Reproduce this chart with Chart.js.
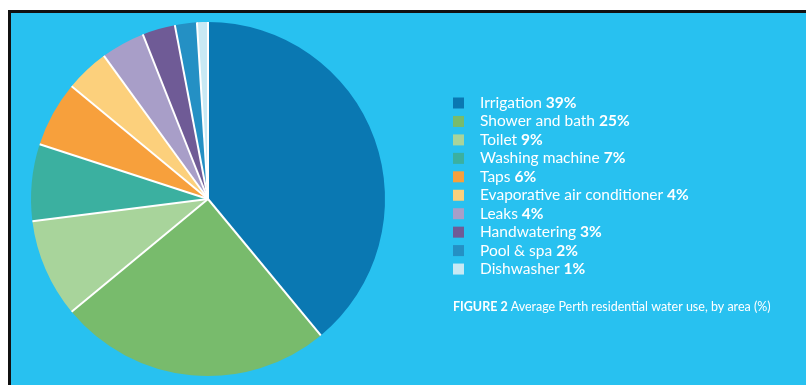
<!DOCTYPE html>
<html>
<head>
<meta charset="utf-8">
<script src="https://cdn.jsdelivr.net/npm/chart.js@4.4.1/dist/chart.umd.min.js"></script>
<style>
  html, body { margin: 0; padding: 0; background: #ffffff; width: 806px; height: 385px; overflow: hidden; }
  #frame {
    position: absolute; left: 8px; top: 10px; width: 795px; height: 375px;
    border-top: 3px solid #111; border-left: 3px solid #111;
    background: #28c1f0;
  }
  #wrap { position: absolute; left: 0; top: 0; width: 795px; height: 372px; }
</style>
</head>
<body>
<div id="frame"><div id="wrap"><canvas id="c"></canvas></div></div>
<script>
// Average Perth residential water use, by area (%)
const categories = [
  'Irrigation', 'Shower and bath', 'Toilet', 'Washing machine', 'Taps',
  'Evaporative air conditioner', 'Leaks', 'Handwatering', 'Pool & spa', 'Dishwasher'
];
const shares = [39, 25, 9, 7, 6, 4, 4, 3, 2, 1];
const sliceColors = [
  '#0a78b2', '#78bb6c', '#a8d49b', '#3bb0a0', '#f7a03c',
  '#fcd07c', '#a89ec8', '#6f5b96', '#2490c4', '#c8e9f4'
];
const captionLead = 'FIGURE 2';
const captionText = 'Average Perth residential water use, by area (%)';

// White separators along the radial edges only (no outline on the outer rim)
const separators = {
  id: 'separators',
  afterDatasetsDraw(chart) {
    const ctx = chart.ctx;
    const arcs = chart.getDatasetMeta(0).data;
    ctx.save();
    ctx.strokeStyle = '#ffffff';
    ctx.lineWidth = 2;
    arcs.forEach(a => {
      const p = a.getProps(['x', 'y', 'startAngle', 'outerRadius'], true);
      ctx.beginPath();
      ctx.moveTo(p.x, p.y);
      ctx.lineTo(p.x + Math.cos(p.startAngle) * p.outerRadius,
                 p.y + Math.sin(p.startAngle) * p.outerRadius);
      ctx.stroke();
    });
    ctx.restore();
  }
};

// Legend with mixed-weight labels plus caption, drawn to the right of the pie
const sideLegend = {
  id: 'sideLegend',
  afterDraw(chart) {
    const ctx = chart.ctx;
    const x0 = 442, y0 = 90, step = 18.45, box = 11, textX = 469;
    ctx.save();
    ctx.textBaseline = 'middle';
    categories.forEach((name, i) => {
      const y = y0 + i * step;
      ctx.fillStyle = sliceColors[i];
      ctx.fillRect(x0, y - box / 2, box, box);
      ctx.fillStyle = '#ffffff';
      ctx.font = '15.5px Lato';
      ctx.fillText(name + ' ', textX, y);
      const w = ctx.measureText(name + ' ').width;
      ctx.font = 'bold 15.5px Lato';
      ctx.fillText(shares[i] + '%', textX + w, y);
    });
    const cy = 294;
    ctx.font = 'bold 12.5px Lato';
    ctx.fillText(captionLead + ' ', x0, cy);
    const lw = ctx.measureText(captionLead + ' ').width;
    ctx.font = '12.5px Lato';
    ctx.fillText(captionText, x0 + lw, cy);
    ctx.restore();
  }
};

new Chart(document.getElementById('c'), {
  type: 'pie',
  data: {
    labels: categories,
    datasets: [{
      data: shares,
      backgroundColor: sliceColors,
      borderWidth: 0
    }]
  },
  options: {
    responsive: true,
    maintainAspectRatio: false,
    animation: false,
    layout: { padding: { left: 20, top: 9, right: 421, bottom: 9 } },
    plugins: {
      legend: { display: false },
      tooltip: { enabled: false }
    }
  },
  plugins: [separators, sideLegend]
});
</script>
</body>
</html>
